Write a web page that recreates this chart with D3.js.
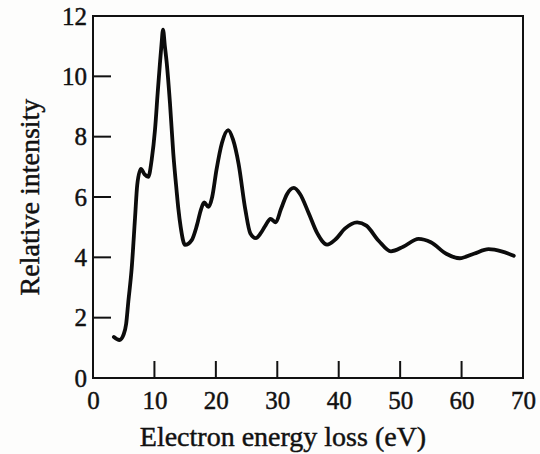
<!DOCTYPE html>
<html>
<head>
<meta charset="utf-8">
<script src="https://cdn.jsdelivr.net/npm/d3@7"></script>
<style>
  html, body { margin: 0; padding: 0; background: #fdfdfc; }
  svg { display: block; }
  text { font-family: "Liberation Serif", "DejaVu Serif", serif; fill: #111; stroke: #111; stroke-width: 0.45px; }
</style>
</head>
<body>
<svg id="chart" width="540" height="454"></svg>
<script>
// Electron energy loss spectrum
const energy = [3.4, 4.3, 5.0, 5.4, 5.75, 6.3, 6.84, 7.2, 7.8, 8.4, 9.0, 9.55, 10.09,
  10.53, 10.9, 11.15, 11.4, 11.7, 12.0, 12.53, 13.07, 13.6, 13.9, 14.27, 14.98, 16.07, 16.9,
  17.6, 18.1, 18.8, 19.4, 20.1, 21.0, 22.0, 22.8, 23.7, 24.8, 25.6, 26.5, 27.3, 28.0, 28.9,
  29.75, 30.6, 31.6, 32.7, 33.7, 35.1, 36.5, 38.1, 39.5, 41.0, 43.0, 44.5, 46.5, 48.5, 50.5,
  53.0, 55.0, 57.5, 59.7, 62.0, 64.4, 66.5, 68.5];
const intensity = [1.36, 1.26, 1.45, 1.8, 2.53, 3.64, 5.3, 6.4, 6.93, 6.75, 6.67, 7.23, 8.22,
  9.45, 10.44, 11.05, 11.55, 11.0, 10.45, 9.11, 7.45, 6.23, 5.6, 5.01, 4.41, 4.57, 5.05,
  5.6, 5.82, 5.67, 6.0, 6.9, 7.8, 8.22, 7.9, 7.1, 5.58, 4.8, 4.64, 4.8, 5.03, 5.27,
  5.16, 5.6, 6.1, 6.3, 6.1, 5.47, 4.8, 4.42, 4.6, 4.95, 5.16, 5.05, 4.55, 4.2, 4.35,
  4.61, 4.5, 4.12, 3.97, 4.12, 4.27, 4.2, 4.05];
const xTicks = [0, 10, 20, 30, 40, 50, 60, 70];
const yTicks = [0, 2, 4, 6, 8, 10, 12];
const xTitle = "Electron energy loss (eV)";
const yTitle = "Relative intensity";

const svg = d3.select("#chart");
const plotL = 93, plotR = 523, plotT = 16, plotB = 378;

const x = d3.scaleLinear().domain([0, 70]).range([plotL, plotR]);
const y = d3.scaleLinear().domain([0, 12]).range([plotB, plotT]);

const data = energy.map((e, i) => ({ e, v: intensity[i] }));

// frame
svg.append("rect")
  .attr("x", plotL).attr("y", plotT)
  .attr("width", plotR - plotL).attr("height", plotB - plotT)
  .attr("fill", "none").attr("stroke", "#111").attr("stroke-width", 2);

// bottom axis labels, ticks pointing inward
const xAxis = svg.append("g")
  .attr("transform", `translate(0,${plotB})`)
  .call(d3.axisBottom(x).tickValues(xTicks).tickSize(0)
    .tickFormat(d3.format("d")));
xAxis.select(".domain").remove();
xAxis.selectAll("text")
  .attr("y", 31).attr("dy", 0)
  .attr("font-size", 25).attr("font-family", "Liberation Serif").attr("fill", "#111");
svg.append("g").selectAll("line")
  .data(xTicks.filter(d => d > 0 && d < 70))
  .join("line")
  .attr("x1", d => x(d)).attr("x2", d => x(d))
  .attr("y1", plotB).attr("y2", plotB - 17)
  .attr("stroke", "#111").attr("stroke-width", 2);

// left axis labels, ticks pointing inward
const yAxis = svg.append("g")
  .attr("transform", `translate(${plotL},0)`)
  .call(d3.axisLeft(y).tickValues(yTicks).tickSize(0).tickPadding(6)
    .tickFormat(d3.format("d")));
yAxis.select(".domain").remove();
yAxis.selectAll("text")
  .attr("font-size", 25).attr("font-family", "Liberation Serif").attr("fill", "#111");
svg.append("g").selectAll("line")
  .data(yTicks.filter(d => d > 0 && d < 12))
  .join("line")
  .attr("x1", plotL).attr("x2", plotL + 18)
  .attr("y1", d => y(d)).attr("y2", d => y(d))
  .attr("stroke", "#111").attr("stroke-width", 2);

// axis titles
svg.append("text")
  .attr("x", 283).attr("y", 446)
  .attr("text-anchor", "middle")
  .attr("font-size", 28)
  .text(xTitle);

svg.append("text")
  .attr("transform", "translate(39,197) rotate(-90)")
  .attr("text-anchor", "middle")
  .attr("font-size", 28)
  .text(yTitle);

// spectrum curve
const line = d3.line()
  .x(d => x(d.e))
  .y(d => y(d.v))
  .curve(d3.curveMonotoneX);

svg.append("path")
  .datum(data)
  .attr("d", line)
  .attr("fill", "none")
  .attr("stroke", "#0c0c0c")
  .attr("stroke-width", 3.8)
  .attr("stroke-linejoin", "round")
  .attr("stroke-linecap", "round");
</script>
</body>
</html>
